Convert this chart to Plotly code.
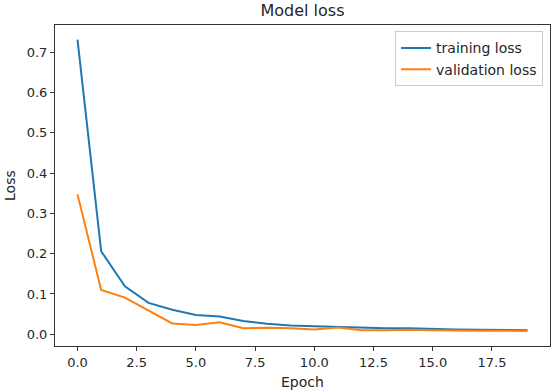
import plotly.graph_objects as go

# loss values, one per epoch
epochs = list(range(20))
training_loss = [0.731, 0.206, 0.119, 0.078, 0.061, 0.048, 0.044, 0.033, 0.026, 0.022,
                 0.020, 0.018, 0.016, 0.015, 0.015, 0.013, 0.012, 0.011, 0.010, 0.010]
validation_loss = [0.347, 0.110, 0.091, 0.059, 0.027, 0.023, 0.030, 0.015, 0.016, 0.015,
                   0.012, 0.017, 0.010, 0.010, 0.011, 0.010, 0.009, 0.009, 0.009, 0.008]
x_ticks = [0, 2.5, 5, 7.5, 10, 12.5, 15, 17.5]
y_ticks = [0, 0.1, 0.2, 0.3, 0.4, 0.5, 0.6, 0.7]

FONT = "DejaVu Sans"

fig = go.Figure()
fig.add_trace(go.Scatter(x=epochs, y=training_loss, mode="lines", name="training loss",
                         line=dict(color="#1f77b4", width=2)))
fig.add_trace(go.Scatter(x=epochs, y=validation_loss, mode="lines", name="validation loss",
                         line=dict(color="#ff7f0e", width=2)))

axis_common = dict(
    showline=True, linecolor="#333333", linewidth=1, mirror=True,
    showgrid=False, zeroline=False, automargin=False,
    ticks="outside", ticklen=4, tickcolor="#333333",
    tickfont=dict(family=FONT, size=13, color="#262626"),
    tickformat=".1f",
)

fig.update_layout(
    width=552, height=392,
    margin=dict(l=55, r=2, t=25, b=46),
    paper_bgcolor="white", plot_bgcolor="white",
    font=dict(family=FONT, size=13, color="#262626"),
    title=dict(text="Model loss", x=0.5, xref="paper", y=0.973, yref="container",
               yanchor="middle", font=dict(family=FONT, size=16, color="#262626")),
    xaxis=dict(axis_common, range=[-0.95, 19.95], tickvals=x_ticks),
    yaxis=dict(axis_common, range=[-0.029, 0.767], tickvals=y_ticks),
    legend=dict(x=0.986, y=0.98, xanchor="right", yanchor="top",
                bgcolor="rgba(255,255,255,0.8)", bordercolor="#cccccc", borderwidth=1,
                font=dict(family=FONT, size=14, color="#262626")),
    showlegend=True,
)

# axis titles placed as in the reference
fig.add_annotation(text="Epoch", x=0.5, y=-0.112, xref="paper", yref="paper",
                   yanchor="middle", showarrow=False, font=dict(size=14))
fig.add_annotation(text="Loss", x=-0.092, y=0.5, xref="paper", yref="paper",
                   xanchor="center", textangle=-90, showarrow=False, font=dict(size=14))

# drop the default page margin so the figure sits at the window's top-left
fig.write_html("out.html", config={"displayModeBar": False},
               post_script="document.body.style.margin='0';")
